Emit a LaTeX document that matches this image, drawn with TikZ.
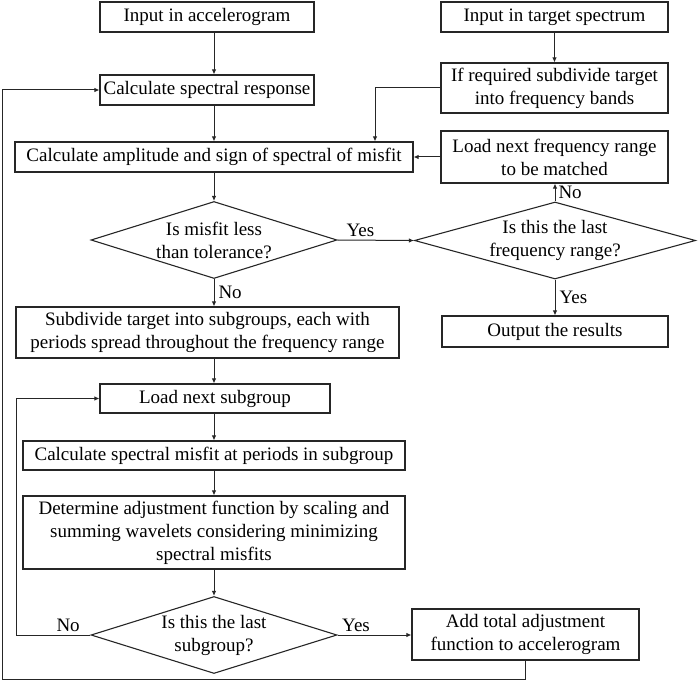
\documentclass[tikz,border=0pt]{standalone}
\usepackage{fontspec}
\setmainfont{Liberation Serif}
\usetikzlibrary{arrows.meta,shapes.geometric}
\newcommand\fs{\fontsize{19}{23}\selectfont}
\begin{document}
\begin{tikzpicture}[x=1pt,y=-1pt,
  ln/.style={draw=black!85, line width=1.1pt},
  box/.style={ln, rectangle, inner sep=0pt, align=center, font=\fs},
  dia/.style={ln, diamond, inner sep=0pt, minimum width=#1, minimum height=77pt},
  arr/.style={draw=black!85, line width=1pt, -{Latex[length=5pt,width=4.5pt]}},
  lbl/.style={font=\fs, inner sep=0pt, align=center}
]
\useasboundingbox (0,0) rectangle (699,682);
\coordinate (sp) at (214,0);
\coordinate (cx) at (375,0);
\coordinate (lpin) at (16,0);
\coordinate (lpout) at (2,679);
% left column
\node[box, minimum width=214pt, minimum height=30pt] (inacc) at (207,17) {Input in accelerogram};
\node[box, minimum width=214pt, minimum height=30pt] (calcresp) at (207,90) {Calculate spectral response};
\node[box, minimum width=398pt, minimum height=30pt] (calcamp) at (214,157) {Calculate amplitude and sign of spectral of misfit};
\node[dia=246pt] (d1) at (214,240) {};
\node[lbl] (d1t) at (d1.center) {Is misfit less\\than tolerance?};
\node[box, minimum width=383pt, minimum height=51pt] (subdiv) at (207.5,332.5) {Subdivide target into subgroups, each with\\periods spread throughout the frequency range};
\node[box, minimum width=230pt, minimum height=29pt] (loadsub) at (215,398.5) {Load next subgroup};
\node[box, minimum width=382pt, minimum height=29pt] (calcmis) at (214,455.5) {Calculate spectral misfit at periods in subgroup};
\node[box, minimum width=382pt, minimum height=73pt] (determ) at (214,532.5) {Determine adjustment function by scaling and\\summing wavelets considering minimizing\\spectral misfits};
\node[dia=246pt] (d3) at (214,635) {};
\node[lbl] (d3t) at (d3.center) {Is this the last\\subgroup?};
\node[box, minimum width=227pt, minimum height=51pt] (addt) at (525.5,634.5) {Add total adjustment\\function to accelerogram};
% right column
\node[box, minimum width=227pt, minimum height=30pt] (tgt) at (554.5,17) {Input in target spectrum};
\node[box, minimum width=227pt, minimum height=50pt] (req) at (554.5,88) {If required subdivide target\\into frequency bands};
\node[box, minimum width=227pt, minimum height=52pt] (nextfr) at (554.5,157) {Load next frequency range\\to be matched};
\node[dia=281pt] (d2) at (555,240.5) {};
\node[lbl] (d2t) at (d2.center) {Is this the last\\frequency range?};
\node[box, minimum width=226pt, minimum height=31pt] (outp) at (555,331.5) {Output the results};
% connectors
\draw[arr] (inacc.south -| sp) -- (calcresp.north -| sp);
\draw[arr] (calcresp.south -| sp) -- (calcamp.north -| sp);
\draw[arr] (calcamp.south -| sp) -- (d1.north);
\draw[arr] (d1.south) -- (subdiv.north -| sp) node[lbl, pos=0.5, right=4pt] {No};
\draw[arr] (subdiv.south -| sp) -- (loadsub.north -| sp);
\draw[arr] (loadsub.south -| sp) -- (calcmis.north -| sp);
\draw[arr] (calcmis.south -| sp) -- (determ.north -| sp);
\draw[arr] (determ.south -| sp) -- (d3.north);
\draw[arr] (d1.east) -- (d2.west) node[lbl, pos=0.3, above=3pt] {Yes};
\draw[arr] (tgt.south) -- (req.north);
\draw[arr] (req.west) -| (calcamp.north -| cx);
\draw[arr] (nextfr.west) -- (calcamp.east);
\draw[arr] (d2.north) -- (nextfr.south -| d2.north) node[lbl, pos=0.5, right=3pt] {No};
\draw[arr] (d2.south) -- (outp.north -| d2.south) node[lbl, pos=0.5, right=4pt] {Yes};
\draw[arr] (d3.east) -- (addt.west |- d3.east) node[lbl, pos=0.25, above=3pt] {Yes};
\draw[arr] (d3.west) -- node[lbl, pos=0.3, above=3pt] {No} (d3.west -| lpin) |- (loadsub.west);
\draw[arr] (addt.south) |- (lpout) |- (calcresp.west);
\end{tikzpicture}
\end{document}
